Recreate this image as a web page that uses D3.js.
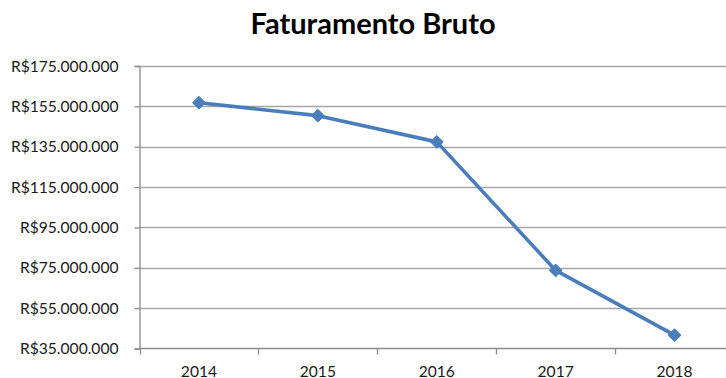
<!DOCTYPE html>
<html>
<head>
<meta charset="utf-8">
<script src="https://cdn.jsdelivr.net/npm/d3@7"></script>
<style>
  html, body { margin: 0; padding: 0; background: #fff; }
  svg { display: block; }
</style>
</head>
<body>
<svg id="chart" width="726" height="378"></svg>
<script>
const years = ["2014", "2015", "2016", "2017", "2018"];
const revenue = [156800000, 150400000, 137400000, 73700000, 41600000];
const yTicks = [35000000, 55000000, 75000000, 95000000, 115000000, 135000000, 155000000, 175000000];
const chartTitle = "Faturamento Bruto";

const svg = d3.select("#chart");
const font = "Lato, 'Open Sans', sans-serif";

const margin = { left: 139.5, top: 66, right: 734, bottom: 348.5 };

const x = d3.scaleBand().domain(years).range([margin.left, margin.right]);
const y = d3.scaleLinear().domain([35000000, 175000000]).range([margin.bottom, margin.top]);

const fmt = v => "R$" + d3.format(",")(v).replace(/,/g, ".");

// horizontal gridlines
svg.append("g")
  .selectAll("line")
  .data(yTicks.filter(t => t !== 35000000))
  .join("line")
  .attr("x1", margin.left)
  .attr("x2", margin.right)
  .attr("y1", d => Math.round(y(d)) + 0.5)
  .attr("y2", d => Math.round(y(d)) + 0.5)
  .attr("stroke", "#a6a6a6")
  .attr("stroke-width", 1.3);

// y axis
const yAxis = svg.append("g")
  .attr("transform", `translate(${margin.left},0)`)
  .call(d3.axisLeft(y).tickValues(yTicks).tickFormat(fmt).tickSize(5).tickPadding(16));
yAxis.select(".domain").attr("stroke", "#8c8c8c").attr("stroke-width", 1.3);
yAxis.selectAll(".tick line").attr("stroke", "#8c8c8c").attr("stroke-width", 1.3);
yAxis.selectAll(".tick text")
  .attr("font-family", font)
  .attr("font-size", 15.6)
  .attr("fill", "#1a1a1a");

// x axis with ticks between categories
const xAxis = svg.append("g")
  .attr("transform", `translate(0,${margin.bottom})`);
xAxis.append("line")
  .attr("x1", margin.left).attr("x2", margin.right)
  .attr("stroke", "#8c8c8c").attr("stroke-width", 1.3);
const bounds = years.map(d => x(d)).concat([x(years[years.length - 1]) + x.bandwidth()]);
xAxis.selectAll("line.tk")
  .data(bounds)
  .join("line")
  .attr("class", "tk")
  .attr("x1", d => Math.round(d) + 0.5)
  .attr("x2", d => Math.round(d) + 0.5)
  .attr("y1", 0)
  .attr("y2", 6)
  .attr("stroke", "#8c8c8c")
  .attr("stroke-width", 1.3);
xAxis.selectAll("text")
  .data(years)
  .join("text")
  .attr("x", d => x(d) + x.bandwidth() / 2)
  .attr("y", 28)
  .attr("text-anchor", "middle")
  .attr("font-family", font)
  .attr("font-size", 15.6)
  .attr("fill", "#1a1a1a")
  .text(d => d);

// series line
const pts = years.map((d, i) => [x(d) + x.bandwidth() / 2, y(revenue[i])]);
svg.append("path")
  .attr("d", d3.line()(pts))
  .attr("fill", "none")
  .attr("stroke", "#4a7ebb")
  .attr("stroke-width", 3.6)
  .attr("stroke-linejoin", "round");

// diamond markers
svg.append("g")
  .selectAll("path")
  .data(pts)
  .join("path")
  .attr("transform", d => `translate(${d[0]},${d[1]})`)
  .attr("d", d3.symbol().type(d3.symbolDiamond2).size(105))
  .attr("fill", "#4a7ebb")
  .attr("stroke", "#4a7ebb")
  .attr("stroke-width", 1);

// title
svg.append("text")
  .attr("x", 373)
  .attr("y", 34)
  .attr("text-anchor", "middle")
  .attr("font-family", font)
  .attr("font-weight", "bold")
  .attr("font-size", 29)
  .attr("fill", "#000")
  .text(chartTitle);
</script>
</body>
</html>
